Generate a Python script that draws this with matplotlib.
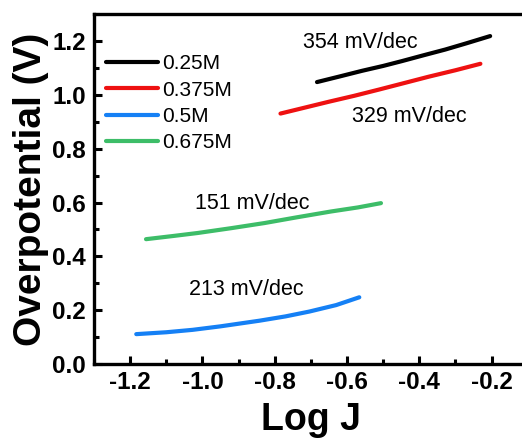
import matplotlib
matplotlib.use("Agg")
import matplotlib.pyplot as plt
from matplotlib.ticker import MultipleLocator

plt.rcParams['font.family'] = ['Liberation Sans', 'DejaVu Sans']
plt.rcParams['axes.unicode_minus'] = False

# values
labels = ['0.25M', '0.375M', '0.5M', '0.675M']
colors = ['#000000', '#ee1111', '#1580f5', '#3dbd68']

x_025 = [-0.683, -0.62, -0.558, -0.50, -0.448, -0.39, -0.328, -0.27, -0.204]
y_025 = [1.048, 1.069, 1.090, 1.108, 1.126, 1.147, 1.169, 1.192, 1.219]

x_0375 = [-0.784, -0.72, -0.650, -0.58, -0.512, -0.44, -0.374, -0.30, -0.231]
y_0375 = [0.931, 0.952, 0.975, 0.997, 1.020, 1.045, 1.068, 1.092, 1.116]

x_05 = [-1.183, -1.10, -1.027, -0.95, -0.842, -0.77, -0.704, -0.63, -0.566]
y_05 = [0.111, 0.118, 0.127, 0.140, 0.161, 0.177, 0.195, 0.219, 0.248]

x_0675 = [-1.156, -1.08, -1.013, -0.92, -0.828, -0.74, -0.644, -0.57, -0.506]
y_0675 = [0.464, 0.476, 0.487, 0.505, 0.524, 0.545, 0.567, 0.582, 0.598]

slopes = ['354 mV/dec', '329 mV/dec', '213 mV/dec', '151 mV/dec']
slope_x = [-0.564, -0.427, -0.878, -0.861]
slope_y = [1.196, 0.920, 0.278, 0.598]

fig = plt.figure(figsize=(5.22, 4.41), dpi=100)
ax = fig.add_axes([0.180, 0.1746, 0.831, 0.793])

xs = [x_025, x_0375, x_05, x_0675]
ys = [y_025, y_0375, y_05, y_0675]
for x, y, c, lab in zip(xs, ys, colors, labels):
    ax.plot(x, y, color=c, lw=3, label=lab, solid_capstyle='round')

for t, tx, ty in zip(slopes, slope_x, slope_y):
    ax.text(tx, ty, t, fontsize=15.5, ha='center', va='center')

ax.set_xlim(-1.3, -0.1)
ax.set_ylim(0, 1.3)
ax.xaxis.set_major_locator(MultipleLocator(0.2))
ax.xaxis.set_minor_locator(MultipleLocator(0.1))
ax.yaxis.set_major_locator(MultipleLocator(0.2))
ax.yaxis.set_minor_locator(MultipleLocator(0.1))
ax.tick_params(which='both', direction='in', width=2.2, top=False, right=False)
ax.tick_params(which='major', length=6, labelsize=17.5)
ax.tick_params(which='minor', length=3.5)
ax.tick_params(axis='x', pad=5)
ax.tick_params(axis='y', pad=6)
for lbl in ax.get_xticklabels() + ax.get_yticklabels():
    lbl.set_fontweight('bold')
for s in ax.spines.values():
    s.set_linewidth(2.4)

ax.set_xlabel('Log J', fontsize=27, fontweight='bold', labelpad=5.5)
ax.set_ylabel('Overpotential (V)', fontsize=28, fontweight='bold', labelpad=2)

ax.legend(loc='upper left', bbox_to_anchor=(0.0, 0.921), frameon=False,
          fontsize=15, handlelength=2.45, handletextpad=0.2,
          labelspacing=0.35, borderaxespad=0.2)

fig.savefig('out.png', dpi=100)
